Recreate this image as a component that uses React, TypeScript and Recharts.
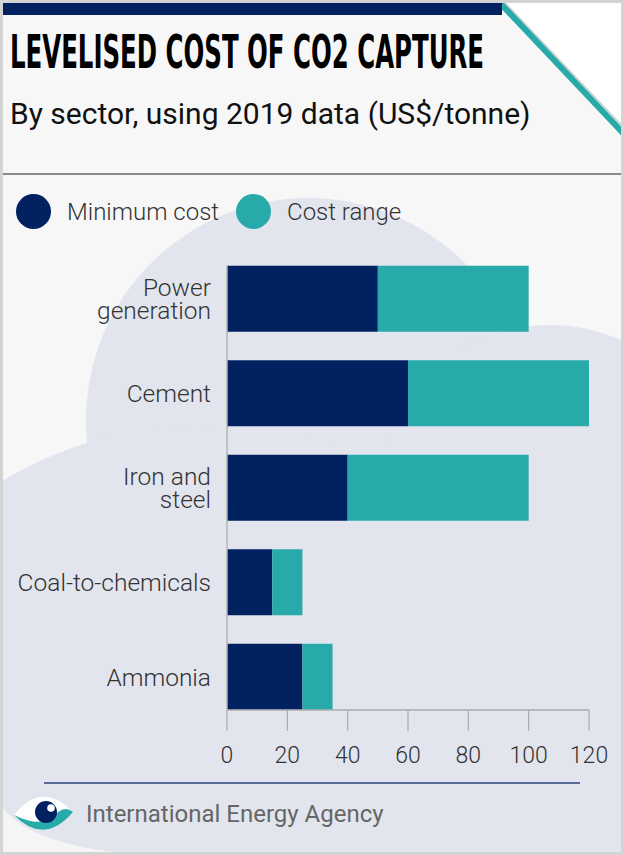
import React from "react";
import { BarChart, Bar, XAxis, YAxis, Legend } from "recharts";

const categories = ["Power\ngeneration", "Cement", "Iron and\nsteel", "Coal-to-chemicals", "Ammonia"];
const minimumCost = [50, 60, 40, 15, 25];
const costRange = [50, 60, 60, 10, 10];
const xTicks = [0, 20, 40, 60, 80, 100, 120];
const seriesNames = ["Minimum cost", "Cost range"];

const NAVY = "#012160";
const TEAL = "#29aaaa";
const CLOUD = "#e2e5ed";
const FONT = "Roboto, 'Noto Sans', sans-serif";

const rows = categories.map((name, i) => ({ name, min: minimumCost[i], range: costRange[i] }));

function CategoryTick({ x, y, payload }: any) {
  const lines = String(payload.value).split("\n");
  const lh = 23.5;
  const start = 8.5 - ((lines.length - 1) * lh) / 2;
  return (
    <text x={x} y={y} textAnchor="end" fontFamily={FONT} fontSize={24.5} fontWeight={300} fill="#333">
      {lines.map((l, i) => (
        <tspan key={i} x={x} dy={i === 0 ? start : lh}>{l}</tspan>
      ))}
    </text>
  );
}

function LegendContent({ payload }: any) {
  const items = [...(payload ?? [])].sort(
    (a: any, b: any) => seriesNames.indexOf(a.value) - seriesNames.indexOf(b.value)
  );
  return (
    <div style={{ display: "flex", alignItems: "center", fontFamily: FONT, fontSize: 24, fontWeight: 300, color: "#333" }}>
      {items.map((p: any) => (
        <div key={p.value} style={{ display: "flex", alignItems: "center", marginRight: 17 }}>
          <span style={{ width: 35, height: 35, borderRadius: "50%", background: p.color, marginRight: 16, display: "inline-block" }} />
          <span>{p.value}</span>
        </div>
      ))}
    </div>
  );
}

function Backdrop() {
  return (
    <svg width={624} height={855} style={{ position: "absolute", left: 0, top: 0 }}>
      <defs>
        <clipPath id="inner">
          <rect x={3} y={3} width={618} height={849} />
        </clipPath>
      </defs>
      <rect x={0} y={0} width={624} height={855} fill="#d4d4d4" />
      <rect x={3} y={3} width={618} height={849} fill="#f7f7f7" />
      <g clipPath="url(#inner)">
        <circle cx={308} cy={420} r={222} fill={CLOUD} />
        <circle cx={550} cy={500} r={175} fill={CLOUD} />
        <circle cx={208} cy={824} r={400} fill={CLOUD} />
        <rect x={3} y={480} width={618} height={372} fill={CLOUD} />
        <path d="M3,808 Q30,842 115,852 L3,852 Z" fill="#f5f5f6" />
        <polygon points="502,3 624,3 624,130" fill="#ffffff" />
        <line x1={503} y1={1} x2={624} y2={128} stroke="#cfcfcf" strokeWidth={2} />
        <line x1={500} y1={3} x2={624} y2={134} stroke={TEAL} strokeWidth={6} />
        <rect x={3} y={3} width={499} height={12} fill={NAVY} />
      </g>
      <rect x={3} y={173} width={618} height={2} fill="#8a8a8a" />
      <text x={10} y={68} fontFamily="'Liberation Sans Narrow', 'DejaVu Sans Condensed', sans-serif" fontWeight={700} fontSize={46} textLength={474} lengthAdjust="spacingAndGlyphs" fill="#000">
        LEVELISED COST OF CO2 CAPTURE
      </text>
      <text x={10} y={124} fontFamily={FONT} fontSize={30} fill="#111">
        By sector, using 2019 data (US$/tonne)
      </text>
      <line x1={44} y1={783} x2={580} y2={783} stroke="#2b4478" strokeWidth={1.5} />
      <path d="M14,815 Q42,780 73,812 Q44,846 14,815 Z" fill="#ffffff" />
      <path d="M14,815 Q44,846 73,812 Q66,806 58,812 Q44,830 14,815 Z" fill={TEAL} />
      <circle cx={46} cy={812} r={11} fill={NAVY} />
      <circle cx={51} cy={808} r={3.8} fill="#ffffff" />
      <text x={86} y={822} fontFamily={FONT} fontSize={24} fill="#666">
        International Energy Agency
      </text>
    </svg>
  );
}

export default function App() {
  return (
    <div style={{ position: "absolute", left: 0, top: 0, width: 624, height: 855 }}>
      <Backdrop />
      <div style={{ position: "absolute", left: 0, top: 0 }}>
        <BarChart width={624} height={855} data={rows} layout="vertical" margin={{ top: 266, right: 35, bottom: 85, left: 0 }}>
          <XAxis
            type="number"
            domain={[0, 120]}
            ticks={xTicks}
            height={60}
            tickSize={21}
            tickMargin={16}
            axisLine={{ stroke: "#aaa", strokeWidth: 1.5 }}
            tickLine={{ stroke: "#aaa", strokeWidth: 1.2 }}
            tick={{ fill: "#333", fontSize: 23, fontWeight: 300, fontFamily: FONT }}
          />
          <YAxis
            type="category"
            dataKey="name"
            width={227}
            tickSize={0}
            tickMargin={16}
            padding={{ top: -14.25, bottom: -14.25 }}
            axisLine={{ stroke: "#b5b5b5", strokeWidth: 1.5 }}
            tickLine={false}
            tick={<CategoryTick />}
            interval={0}
          />
          <Legend
            layout="horizontal"
            verticalAlign="middle"
            align="center"
            wrapperStyle={{ top: 194, left: 16, width: 420, height: 36 }}
            content={<LegendContent />}
          />
          <Bar dataKey="min" name={seriesNames[0]} stackId="a" fill={NAVY} barSize={66} isAnimationActive={false} />
          <Bar dataKey="range" name={seriesNames[1]} stackId="a" fill={TEAL} barSize={66} isAnimationActive={false} />
        </BarChart>
      </div>
    </div>
  );
}
